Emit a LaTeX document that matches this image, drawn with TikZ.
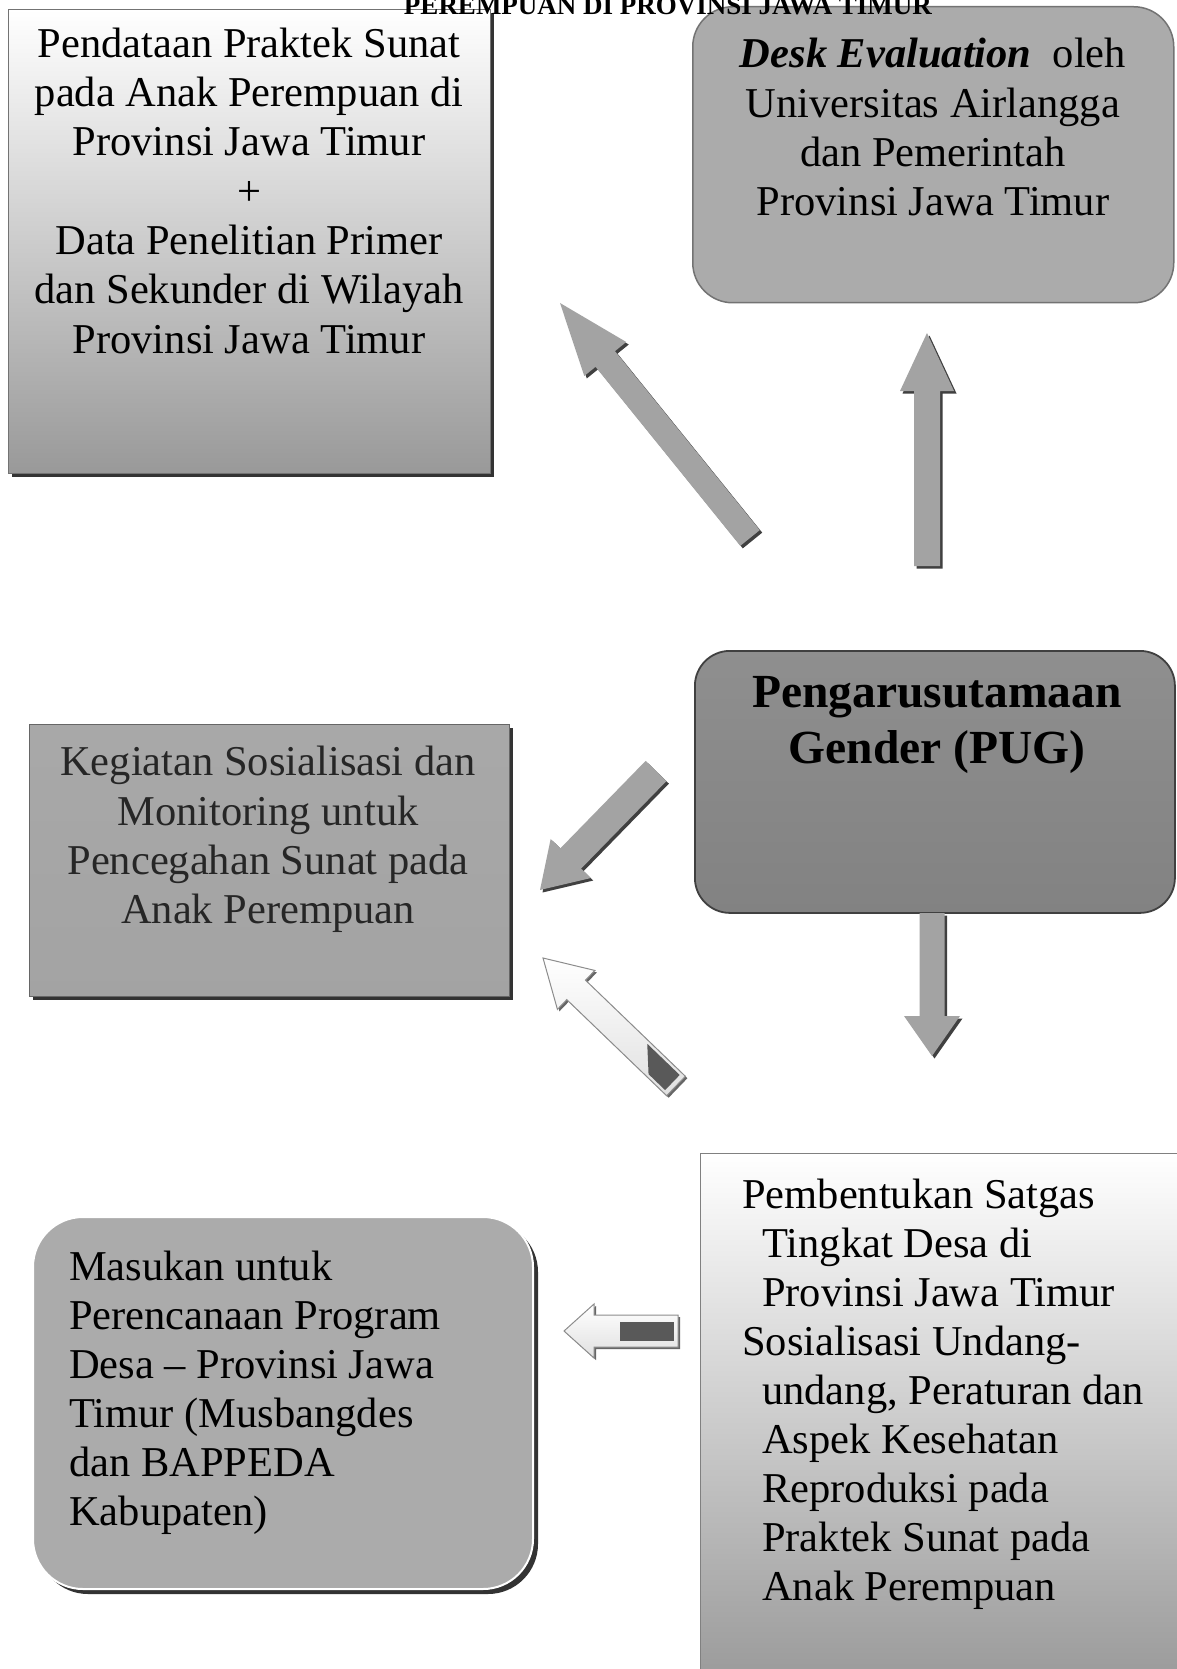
\documentclass[tikz,border=0pt]{standalone}
\usepackage{fontspec}
\setmainfont{Liberation Serif}
\usetikzlibrary{calc,shadows}
\newcommand\barrow[6]{%
  \coordinate (ba) at ($(#2)!#5!(#1)$);
  \path[#6] ($(#1)!#3!90:(#2)$) -- ($(ba)!#3!-90:(#1)$) -- ($(ba)!#4!-90:(#1)$) -- (#2)
     -- ($(ba)!#4!90:(#1)$) -- ($(ba)!#3!90:(#1)$) -- ($(#1)!#3!-90:(#2)$) -- cycle;
}
\tikzset{
  sq/.style={rectangle, inner sep=0pt, anchor=north west},
  shd/.style={drop shadow={shadow xshift=4pt, shadow yshift=-4pt, fill=black!80, opacity=1}},
  boxtxt/.style={inner sep=0pt, anchor=north, align=center, font=\fontsize{42.5}{49.3}\selectfont},
  grayarrow/.style={fill=black!36, drop shadow={shadow xshift=2.5pt, shadow yshift=-2.5pt, fill=black!75, opacity=1}},
  whitearrow/.style={top color=white, bottom color=black!12, draw=black!45, line width=1pt, drop shadow={shadow xshift=2pt, shadow yshift=-2pt, fill=black!60, opacity=1}},
}
\begin{document}
\begin{tikzpicture}[x=1pt,y=-1pt]
\useasboundingbox (0,0) rectangle (1176,1669);
\fill[white] (0,0) rectangle (1176,1669);

% box 1
\node[sq, shd, minimum width=482pt, minimum height=464pt, top color=white, middle color=black!17, bottom color=black!40, draw=black!55, line width=0.8pt] (b1) at (8,9) {};
\node[boxtxt] (t1) at (249,22.5) {\strut Pendataan Praktek Sunat\\pada Anak Perempuan di\\Provinsi Jawa Timur\\+\\Data Penelitian Primer\\dan Sekunder di Wilayah\\Provinsi Jawa Timur};

% box 2
\node[sq, rounded corners=40pt, minimum width=481pt, minimum height=296pt, top color=black!33, middle color=black!22, bottom color=black!33, draw=black!55, line width=1.5pt] (b2) at (692,6) {};
\node[boxtxt] (t2) at (933,33) {\strut\textbf{\textit{Desk Evaluation}}\ \ oleh\\Universitas Airlangga\\dan Pemerintah\\Provinsi Jawa Timur};

% box 3 PUG
\node[sq, rounded corners=35pt, minimum width=480pt, minimum height=262pt, top color=black!44, bottom color=black!49, draw=black!75, line width=1.8pt] (b3) at (694,650) {};
\node[boxtxt, font=\bfseries\fontsize{47.5}{56}\selectfont] (t3) at (937,668) {\strut Pengarusutamaan\\Gender (PUG)};

% box 4 Kegiatan
\node[sq, shd, minimum width=480pt, minimum height=272pt, top color=black!34, middle color=black!50, bottom color=black!36, draw=black!60, line width=0.8pt] (b4) at (29,724) {};
\node[boxtxt, text=black!85] (t4) at (268,741) {\strut Kegiatan Sosialisasi dan\\Monitoring untuk\\Pencegahan Sunat pada\\Anak Perempuan};

% box 5 Masukan
\node[sq, rounded corners=50pt, minimum width=500pt, minimum height=372pt, fill=black!33, draw=white, line width=2pt, drop shadow={shadow xshift=5pt, shadow yshift=-5pt, fill=black!80, opacity=1}] (b5) at (32,1216) {};
\node[boxtxt, anchor=north west, align=left, font=\fontsize{42.5}{49}\selectfont] (t5) at (69,1246) {\strut Masukan untuk\\Perencanaan Program\\Desa -- Provinsi Jawa\\Timur (Musbangdes\\dan BAPPEDA\\Kabupaten)};

% box 6 Pembentukan
\node[sq, minimum width=490pt, minimum height=560pt, top color=white, middle color=black!15, bottom color=black!42, draw=black!50, line width=1pt] (b6) at (700,1153) {};
\node[boxtxt, anchor=north west, align=left, font=\fontsize{42.5}{49}\selectfont] (t6) at (742,1174) {\strut Pembentukan Satgas\\
\hspace*{20pt}Tingkat Desa di\\
\hspace*{20pt}Provinsi Jawa Timur\\
Sosialisasi Undang-\\
\hspace*{20pt}undang, Peraturan dan\\
\hspace*{20pt}Aspek Kesehatan\\
\hspace*{20pt}Reproduksi pada\\
\hspace*{20pt}Praktek Sunat pada\\
\hspace*{20pt}Anak Perempuan};

% arrows
\coordinate (aT) at (750,538); \coordinate (aH) at (560,303);
\barrow{aT}{aH}{12.5pt}{27pt}{72pt}{grayarrow}
\coordinate (bT) at (927,566); \coordinate (bH) at (927,333);
\barrow{bT}{bH}{13pt}{27pt}{58pt}{grayarrow}
\coordinate (cT) at (932,913); \coordinate (cH) at (932,1056);
\barrow{cT}{cH}{12.5pt}{28pt}{40pt}{grayarrow}
\coordinate (dT) at (656,771); \coordinate (dH) at (540,890);
\barrow{dT}{dH}{14.5pt}{28pt}{44pt}{grayarrow}

\coordinate (eT) at (676,1086); \coordinate (eH) at (543,958);
\barrow{eT}{eH}{13.5pt}{27pt}{46pt}{whitearrow}
\coordinate (e1) at ($(eT)!5pt!(eH)$);
\coordinate (e2) at ($(eT)!50pt!(eH)$);
\coordinate (e3) at ($(eT)!28pt!(eH)$);
\fill[black!65] ($(e1)!10.5pt!90:(eH)$) -- ($(e3)!10.5pt!90:(eH)$) -- ($(e2)!10.5pt!-90:(eH)$) -- ($(e1)!10.5pt!-90:(eH)$) -- cycle;

\coordinate (fT) at (678,1331); \coordinate (fH) at (564,1331);
\barrow{fT}{fH}{16pt}{27pt}{30pt}{whitearrow}
\fill[black!65] (620,1322) rectangle (674,1341);

% title (cut at the top)
\node[font=\bfseries\fontsize{27}{31}\selectfont, anchor=base, inner sep=0pt] (title) at (668,15) {PEREMPUAN DI PROVINSI JAWA TIMUR};
\end{tikzpicture}
\end{document}
